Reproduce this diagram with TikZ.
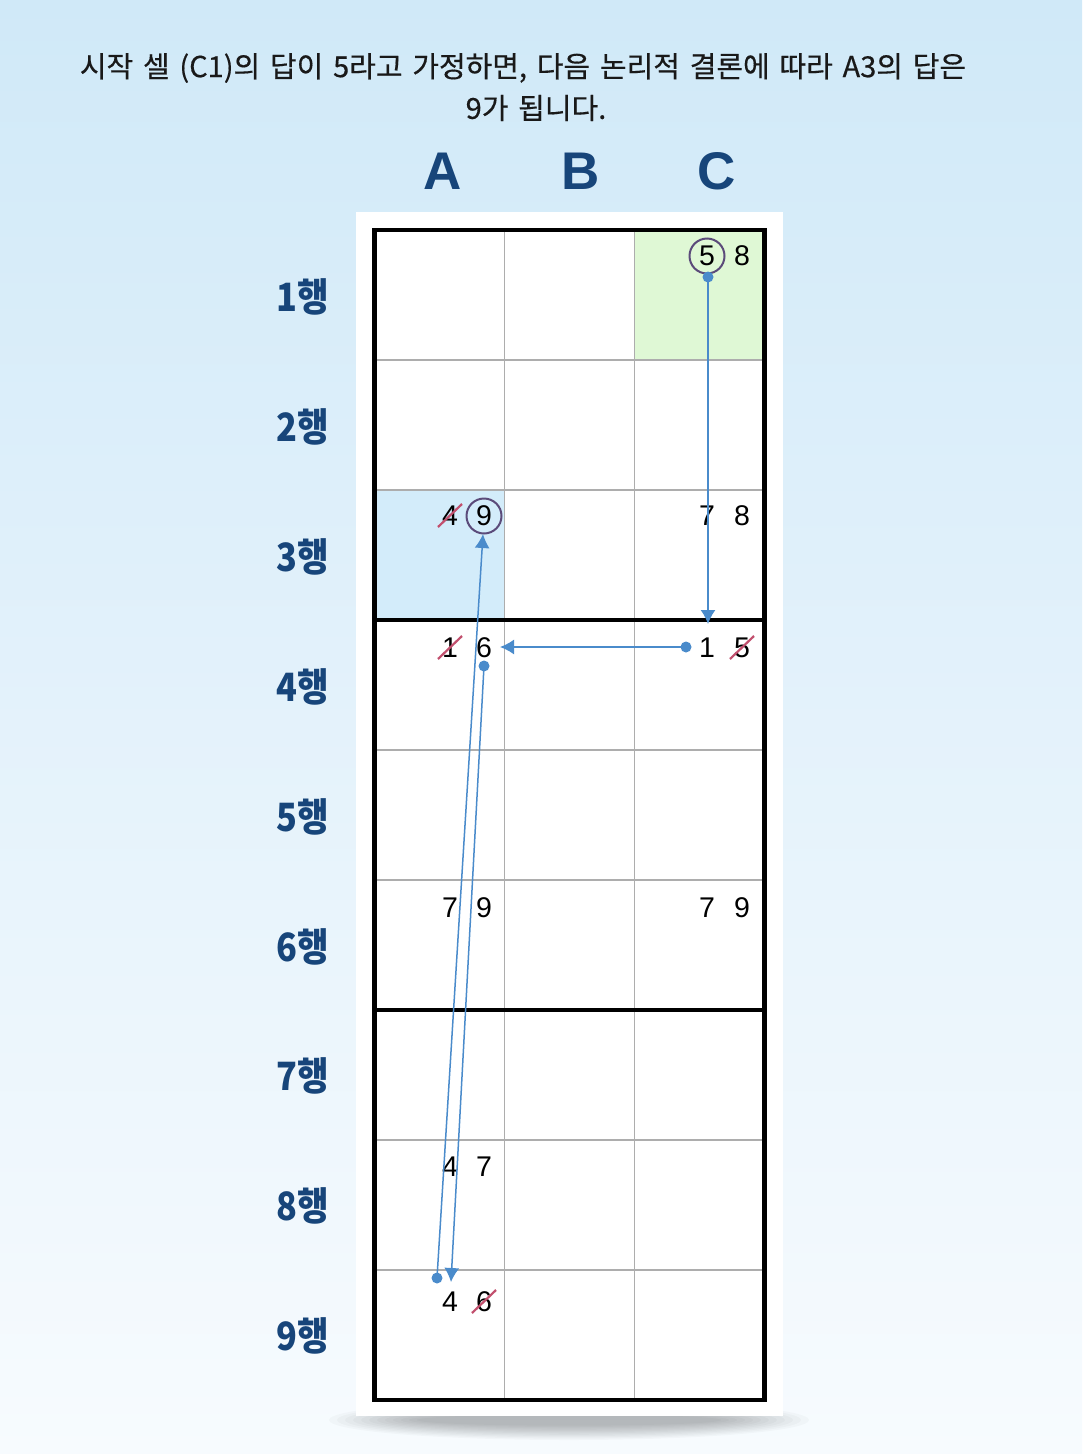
\documentclass[tikz,border=0pt]{standalone}
\usepackage{fontspec}
\setmainfont{Liberation Sans}
\newfontfamily\kr{Noto Sans CJK KR}
\newfontfamily\krt{Noto Sans CJK KR}[FakeBold=0.4, WordSpace=1.5]
\usetikzlibrary{arrows.meta}
\definecolor{bgtop}{HTML}{D0E9F8}
\definecolor{bgmid}{HTML}{E4F2FB}
\definecolor{bgbot}{HTML}{F7FBFE}
\definecolor{navy}{HTML}{17457A}
\definecolor{cgreen}{HTML}{DFF8D5}
\definecolor{cblue}{HTML}{D3ECFA}
\definecolor{gridgray}{HTML}{ADADAD}
\definecolor{arrowblue}{HTML}{4A8BCB}
\definecolor{strikec}{HTML}{C2506E}
\definecolor{ringc}{HTML}{5B4B7A}
\newcommand\rowtxt[1]{\scalebox{0.88}[1]{#1}}
\tikzset{
  digit/.style={font=\fontsize{28.5}{28.5}\selectfont, inner sep=0pt, anchor=center},
  ring/.style={draw=ringc, line width=2pt, circle, minimum size=35pt, inner sep=0pt},
  strikeline/.style={draw=strikec, line width=2.2pt},
  dotnode/.style={circle, fill=arrowblue, inner sep=0pt, minimum size=11pt},
  flow/.style={draw=arrowblue, line width=1.5pt, -{Latex[length=14pt,width=15pt]}},
  rowlab/.style={font=\kr\bfseries\fontsize{39}{39}\selectfont, text=navy, inner sep=0pt},
  collab/.style={font=\bfseries\fontsize{53}{53}\selectfont, text=navy, inner sep=0pt},
  titletext/.style={font=\krt\fontsize{29}{29}\selectfont, text=black!90, inner sep=0pt},
  thin/.style={draw=gridgray, line width=1.8pt},
  thick/.style={draw=black, line width=4.5pt},
}
\begin{document}
\begin{tikzpicture}[x=1pt,y=-1pt]
\useasboundingbox (0,0) rectangle (1082,1454);
% background
\shade[top color=bgtop, bottom color=bgbot, middle color=bgmid] (0,0) rectangle (1082,1454);
% shadow under panel
\foreach \i in {0,...,11} {
  \fill[black, opacity=0.025] (569,1420) ellipse ({240-8*\i} and {20-1.3*\i});
}
% white panel
\fill[white] (356,212) rectangle (783,1416);
% highlighted cells
\fill[cgreen] (634.5,230) rectangle (764.5,360);
\fill[cblue] (374.5,490) rectangle (504.5,620);
% thin grid lines
\foreach \x in {504.5,634.5} { \draw[thin] (\x,230) -- (\x,1400); }
\foreach \y in {360,490,750,880,1140,1270} { \draw[thin] (374.5,\y) -- (764.5,\y); }
% thick lines
\draw[thick] (374.5,620) -- (764.5,620);
\draw[thick] (374.5,1010) -- (764.5,1010);
\draw[thick] (374.5,230) rectangle (764.5,1400);

% title
\node[titletext] (title1) at (523,68) {시작 셀 (C1)의 답이 5라고 가정하면, 다음 논리적 결론에 따라 A3의 답은};
\node[titletext] (title2) at (536,108) {9가 됩니다.};

% column labels
\node[collab] (colA) at (443,171) {A};
\node[collab] (colB) at (581,171) {B};
\node[collab] (colC) at (717,171) {C};

% row labels
\foreach \r in {1,...,9} {
  \node[rowlab] (row\r) at (303,{297+129.9*(\r-1)}) {\rowtxt{\r{}행}};
}

% digits
\node[digit] (c1a) at (707,256) {5};
\node[digit] (c1b) at (742,256) {8};
\node[digit] (a3a) at (450,516) {4};
\node[digit] (a3b) at (484,516) {9};
\node[digit] (c3a) at (707,516) {7};
\node[digit] (c3b) at (742,516) {8};
\node[digit] (a4a) at (450,648) {1};
\node[digit] (a4b) at (484,648) {6};
\node[digit] (c4a) at (707,648) {1};
\node[digit] (c4b) at (742,648) {5};
\node[digit] (a6a) at (450,908) {7};
\node[digit] (a6b) at (484,908) {9};
\node[digit] (c6a) at (707,908) {7};
\node[digit] (c6b) at (742,908) {9};
\node[digit] (a8a) at (450,1167) {4};
\node[digit] (a8b) at (484,1167) {7};
\node[digit] (a9a) at (450,1302) {4};
\node[digit] (a9b) at (484,1302) {6};

% rings
\node[ring] (ring1) at (c1a) {};
\node[ring] (ring2) at (a3b) {};

% strikes
\foreach \n in {a3a,a4a,c4b,a9b} {
  \draw[strikeline] ([shift={(-12,11)}]\n.center) -- ([shift={(12,-12)}]\n.center);
}

% arrows
\node[dotnode] (d1) at (708,277) {};
\coordinate (t1) at (708,624);
\node[dotnode] (d2) at (686,647) {};
\coordinate (t2) at (500,647);
\node[dotnode] (d3) at (484,666) {};
\coordinate (t3) at (451,1282);
\node[dotnode] (d4) at (437,1278) {};
\coordinate (t4) at (483,534);
\draw[flow] (d1.center) -- (t1);
\draw[flow] (d2.center) -- (t2);
\draw[flow] (d3.center) -- (t3);
\draw[flow] (d4.center) -- (t4);
\end{tikzpicture}
\end{document}
